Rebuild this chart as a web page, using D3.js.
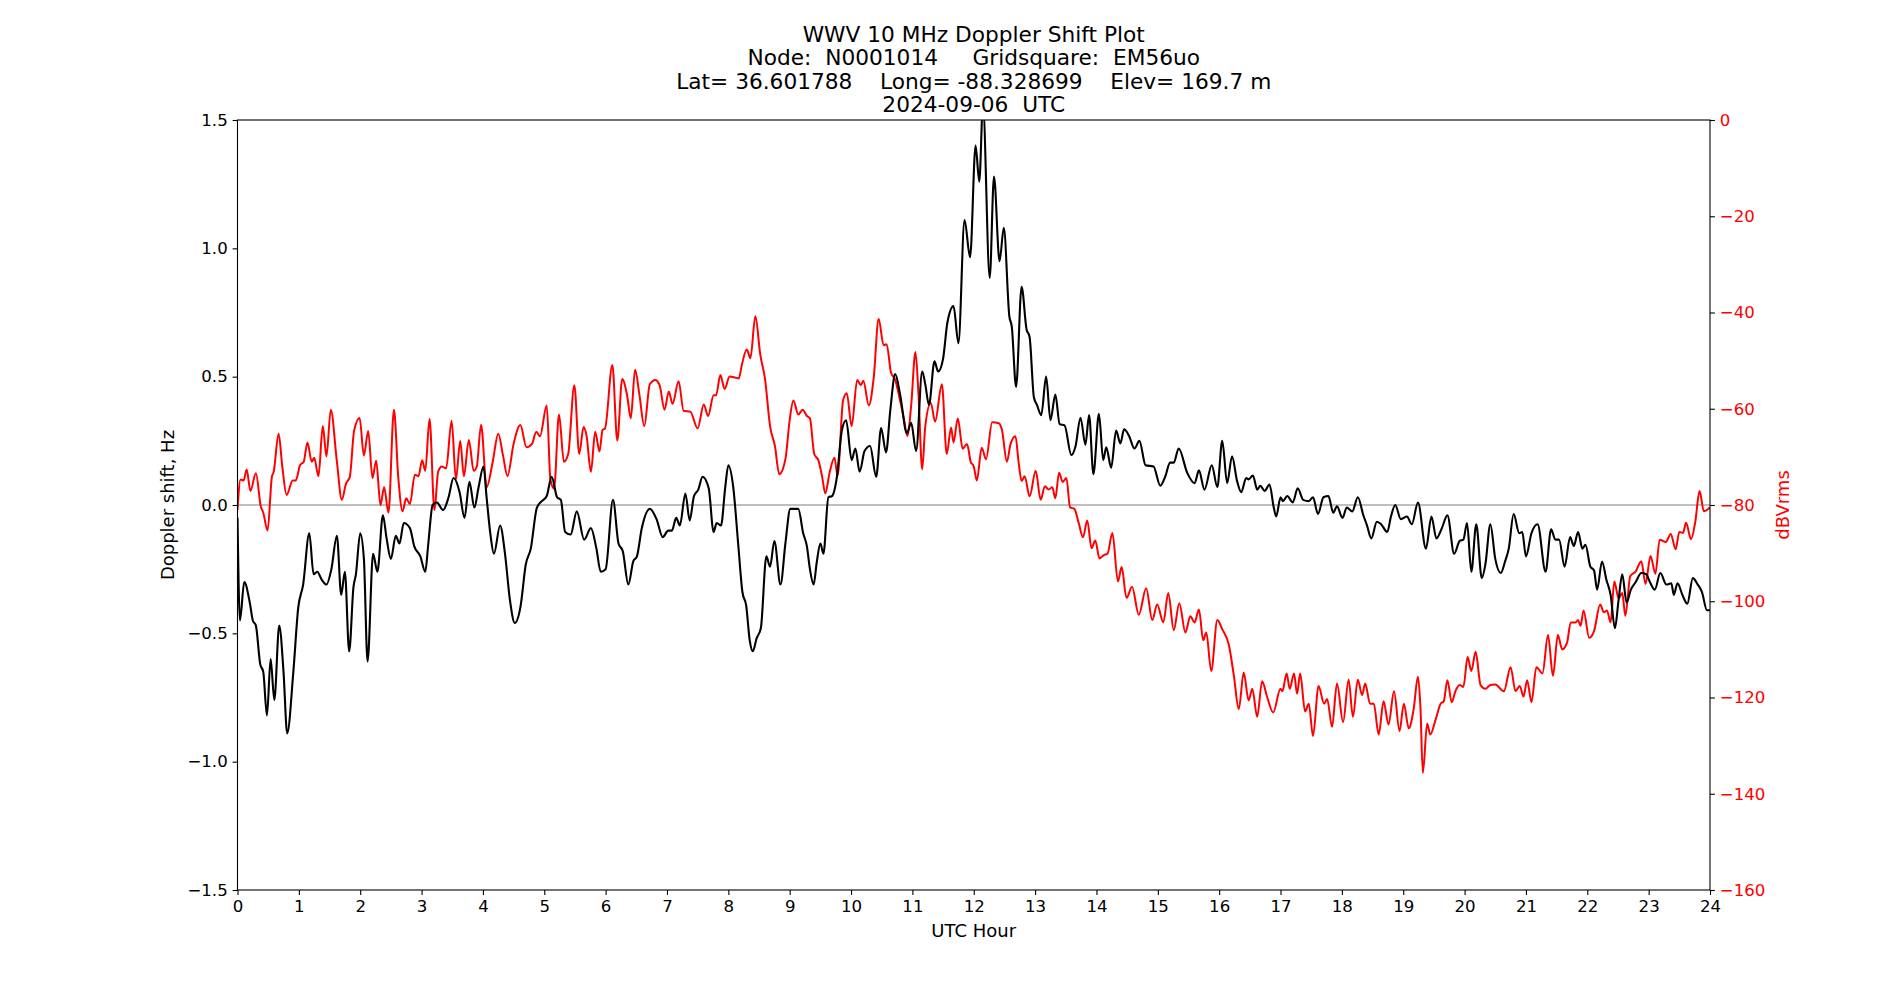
<!DOCTYPE html>
<html>
<head>
<meta charset="utf-8">
<script src="https://cdn.jsdelivr.net/npm/d3@7"></script>
<style>
  body { margin: 0; background: #fff; }
  svg text { font-family: "DejaVu Sans", sans-serif; }
</style>
</head>
<body>
<svg id="chart" width="1900" height="1000"></svg>
<script>
// titles / labels
var titleLines = ['WWV 10 MHz Doppler Shift Plot',
                  'Node:  N0001014     Gridsquare:  EM56uo',
                  'Lat= 36.601788    Long= -88.328699    Elev= 169.7 m',
                  '2024-09-06  UTC'];
var xLabel = 'UTC Hour';
var yLeftLabel = 'Doppler shift, Hz';
var yRightLabel = 'dBVrms';

// tick values
var xTicks = [0,1,2,3,4,5,6,7,8,9,10,11,12,13,14,15,16,17,18,19,20,21,22,23,24];
var leftTicks = [-1.5,-1.0,-0.5,0.0,0.5,1.0,1.5];
var rightTicks = [-160,-140,-120,-100,-80,-60,-40,-20,0];

// doppler shift (black)
var dopHours = [0,0.04,0.11,0.20,0.25,0.30,0.37,0.42,0.48,0.54,0.60,0.68,0.75,0.81,0.91,0.99,1.07,1.17,1.24,1.30,
  1.37,1.45,1.53,1.62,1.69,1.75,1.82,1.89,1.93,2.00,2.06,2.12,2.21,2.28,2.37,2.43,2.50,2.58,2.64,2.71,
  2.81,2.88,2.98,3.06,3.11,3.18,3.25,3.35,3.44,3.52,3.62,3.70,3.78,3.86,3.93,4.01,4.06,4.12,4.18,4.28,
  4.36,4.44,4.52,4.61,4.70,4.78,4.88,4.96,5.04,5.12,5.21,5.27,5.34,5.43,5.53,5.65,5.76,5.85,5.92,6.00,
  6.12,6.21,6.28,6.37,6.45,6.51,6.59,6.72,6.83,6.93,7.02,7.08,7.15,7.21,7.30,7.37,7.44,7.51,7.58,7.68,
  7.76,7.81,7.88,7.95,8.00,8.08,8.16,8.23,8.29,8.35,8.40,8.46,8.53,8.62,8.68,8.75,8.85,8.93,9.01,9.14,
  9.22,9.28,9.33,9.39,9.44,9.50,9.55,9.63,9.69,9.77,9.85,9.92,10.01,10.07,10.14,10.22,10.31,10.41,10.49,10.57,
  10.64,10.72,10.80,10.91,10.98,11.06,11.16,11.21,11.27,11.36,11.42,11.50,11.57,11.67,11.75,11.85,11.94,12.03,12.09,12.15,
  12.26,12.33,12.42,12.49,12.58,12.62,12.69,12.78,12.86,12.91,12.98,13.03,13.10,13.18,13.25,13.33,13.40,13.48,13.59,13.66,
  13.74,13.82,13.88,13.95,14.04,14.11,14.16,14.24,14.32,14.39,14.45,14.53,14.62,14.70,14.80,14.93,15.04,15.12,15.20,15.26,
  15.34,15.48,15.60,15.67,15.76,15.88,15.97,16.05,16.13,16.21,16.29,16.36,16.44,16.48,16.55,16.62,16.67,16.74,16.82,16.89,
  16.93,17.00,17.04,17.11,17.20,17.28,17.37,17.46,17.53,17.61,17.70,17.78,17.86,17.92,18.01,18.08,18.17,18.26,18.35,18.41,
  18.48,18.57,18.64,18.74,18.80,18.87,18.96,19.06,19.14,19.24,19.37,19.46,19.54,19.63,19.72,19.83,19.92,19.98,20.04,20.11,
  20.19,20.28,20.34,20.42,20.50,20.59,20.66,20.72,20.80,20.89,20.94,21.00,21.09,21.19,21.32,21.41,21.48,21.54,21.63,21.72,
  21.78,21.85,21.92,21.97,22.05,22.11,22.16,22.24,22.31,22.38,22.45,22.51,22.57,22.64,22.71,22.79,22.88,22.96,23.02,23.10,
  23.19,23.29,23.37,23.41,23.47,23.55,23.63,23.72,23.80,23.87,23.95,24.00];
var dopValues = [-0.05,-0.45,-0.30,-0.38,-0.45,-0.47,-0.62,-0.65,-0.82,-0.60,-0.76,-0.47,-0.65,-0.89,-0.65,-0.40,-0.31,-0.11,-0.27,-0.26,
  -0.29,-0.31,-0.25,-0.12,-0.35,-0.26,-0.57,-0.32,-0.27,-0.11,-0.21,-0.61,-0.19,-0.26,-0.04,-0.13,-0.21,-0.12,-0.15,-0.07,
  -0.09,-0.16,-0.20,-0.26,-0.15,0.0,0.01,-0.02,0.03,0.105,0.05,-0.05,0.09,-0.01,0.07,0.15,0.03,-0.11,-0.19,-0.08,
  -0.19,-0.37,-0.46,-0.40,-0.23,-0.17,-0.01,0.015,0.035,0.11,0.03,0.02,-0.105,-0.115,-0.025,-0.135,-0.09,-0.17,-0.26,-0.25,
  0.02,-0.15,-0.18,-0.31,-0.22,-0.20,-0.09,-0.015,-0.055,-0.125,-0.10,-0.10,-0.05,-0.08,0.045,-0.06,0.035,0.06,0.11,0.065,
  -0.105,-0.07,-0.08,0.07,0.155,0.07,-0.15,-0.34,-0.39,-0.53,-0.57,-0.52,-0.48,-0.20,-0.24,-0.14,-0.31,-0.15,-0.015,-0.015,
  -0.11,-0.16,-0.25,-0.31,-0.225,-0.15,-0.19,0.03,0.035,0.11,0.29,0.33,0.175,0.22,0.13,0.21,0.23,0.11,0.30,0.205,
  0.37,0.51,0.43,0.28,0.32,0.21,0.52,0.47,0.39,0.56,0.52,0.57,0.71,0.775,0.63,1.11,0.965,1.40,1.26,1.56,
  0.885,1.28,0.95,1.08,0.735,0.695,0.46,0.85,0.685,0.655,0.42,0.39,0.35,0.50,0.33,0.43,0.315,0.31,0.195,0.23,
  0.34,0.235,0.35,0.12,0.355,0.175,0.225,0.145,0.29,0.24,0.295,0.27,0.22,0.25,0.155,0.15,0.075,0.11,0.165,0.165,
  0.22,0.125,0.085,0.135,0.06,0.155,0.07,0.25,0.085,0.19,0.095,0.05,0.105,0.10,0.115,0.06,0.075,0.055,0.08,-0.01,
  -0.045,0.03,0.015,0.035,0.01,0.065,0.02,0.015,0.03,-0.035,0.03,0.035,-0.03,-0.005,-0.05,-0.01,-0.025,0.03,-0.04,-0.08,
  -0.13,-0.065,-0.075,-0.105,-0.045,0.0,-0.055,-0.045,-0.075,0.01,-0.17,-0.045,-0.13,-0.09,-0.04,-0.19,-0.14,-0.135,-0.07,-0.26,
  -0.075,-0.285,-0.23,-0.075,-0.21,-0.265,-0.22,-0.17,-0.035,-0.11,-0.105,-0.20,-0.11,-0.075,-0.26,-0.095,-0.135,-0.135,-0.24,-0.125,
  -0.16,-0.105,-0.17,-0.155,-0.24,-0.255,-0.33,-0.22,-0.29,-0.35,-0.48,-0.37,-0.27,-0.38,-0.33,-0.30,-0.265,-0.27,-0.30,-0.33,
  -0.265,-0.31,-0.305,-0.35,-0.305,-0.35,-0.385,-0.285,-0.31,-0.34,-0.41,-0.41];

// signal level (red)
var dbHours = [0,0.05,0.10,0.15,0.21,0.30,0.38,0.42,0.49,0.56,0.59,0.67,0.73,0.80,0.90,0.95,1.02,1.08,1.14,1.21,
  1.25,1.32,1.39,1.45,1.52,1.62,1.70,1.77,1.83,1.90,1.99,2.06,2.13,2.20,2.26,2.33,2.39,2.46,2.55,2.62,
  2.69,2.75,2.81,2.89,2.95,3.01,3.06,3.13,3.21,3.27,3.33,3.40,3.49,3.56,3.63,3.69,3.77,3.85,3.90,3.97,
  4.06,4.16,4.25,4.33,4.40,4.50,4.61,4.71,4.80,4.87,4.93,5.04,5.10,5.16,5.24,5.32,5.39,5.49,5.57,5.64,
  5.69,5.76,5.83,5.90,5.95,5.99,6.11,6.19,6.27,6.35,6.41,6.48,6.55,6.63,6.72,6.81,6.88,6.96,7.03,7.09,
  7.19,7.27,7.38,7.50,7.60,7.67,7.76,7.80,7.87,7.94,8.02,8.11,8.17,8.22,8.30,8.36,8.44,8.52,8.60,8.68,
  8.76,8.83,8.93,9.00,9.06,9.14,9.21,9.28,9.33,9.40,9.47,9.53,9.58,9.65,9.73,9.78,9.87,9.93,10.01,10.10,
  10.16,10.20,10.29,10.37,10.45,10.53,10.58,10.65,10.72,10.79,10.86,10.92,10.98,11.05,11.10,11.16,11.21,11.30,11.37,11.48,
  11.56,11.63,11.67,11.74,11.82,11.89,11.95,12.00,12.05,12.13,12.20,12.30,12.41,12.46,12.54,12.60,12.68,12.73,12.78,12.83,
  12.91,13.01,13.09,13.16,13.22,13.28,13.33,13.39,13.45,13.51,13.57,13.64,13.71,13.78,13.85,13.92,13.98,14.05,14.12,14.18,
  14.26,14.35,14.41,14.49,14.58,14.69,14.81,14.91,14.99,15.09,15.17,15.26,15.35,15.45,15.53,15.60,15.67,15.74,15.79,15.87,
  15.97,16.05,16.16,16.24,16.32,16.40,16.48,16.54,16.62,16.70,16.78,16.88,17.00,17.03,17.10,17.15,17.22,17.27,17.32,17.40,
  17.46,17.53,17.62,17.71,17.76,17.84,17.92,18.02,18.11,18.18,18.26,18.33,18.38,18.46,18.52,18.60,18.68,18.76,18.85,18.94,
  19.01,19.09,19.17,19.24,19.28,19.32,19.39,19.44,19.53,19.61,19.66,19.72,19.79,19.85,19.92,19.98,20.05,20.11,20.18,20.26,
  20.34,20.42,20.50,20.64,20.75,20.83,20.90,20.96,21.02,21.09,21.17,21.27,21.36,21.44,21.52,21.59,21.67,21.73,21.81,21.85,
  21.89,21.94,22.03,22.11,22.21,22.27,22.32,22.38,22.44,22.51,22.57,22.62,22.70,22.79,22.88,22.95,23.03,23.11,23.18,23.28,
  23.36,23.44,23.50,23.56,23.61,23.69,23.76,23.83,23.90,24.00];
var dbValues = [-81,-74.7,-74.9,-72.6,-77.1,-73.4,-80.3,-81.6,-85.3,-74.2,-73.1,-65.2,-72.0,-77.9,-74.9,-74.9,-71.7,-71.0,-67.0,-71.0,
  -70.2,-74.0,-63.6,-69.9,-60.2,-71.0,-78.9,-75.5,-74.2,-64.6,-61.9,-69.7,-64.6,-74.4,-70.8,-80.0,-76.3,-81.6,-60.2,-74.2,
  -81.3,-78.6,-79.8,-73.7,-74.0,-70.7,-72.9,-62.1,-81.1,-73.1,-72.0,-72.4,-62.5,-74.7,-66.7,-74.0,-66.5,-72.9,-72.0,-63.3,
  -76.3,-71.0,-65.2,-69.9,-74.0,-67.3,-63.4,-68.0,-67.3,-64.8,-65.7,-59.3,-74.7,-76.6,-61.2,-71.0,-69.4,-55.1,-69.4,-63.8,
  -65.7,-73.1,-64.8,-68.9,-64.4,-64.1,-50.9,-66.6,-53.8,-57.2,-62.0,-51.9,-57.0,-63.6,-54.9,-54.0,-55.1,-60.2,-56.4,-59.0,
  -54.3,-60.4,-60.6,-64.1,-59.1,-61.5,-57.2,-57.2,-53.0,-55.9,-53.3,-53.5,-53.7,-50.9,-47.7,-49.5,-40.8,-48.7,-54.0,-63.6,
  -67.8,-73.6,-70.5,-62.3,-58.3,-61.2,-60.2,-61.5,-62.0,-69.4,-70.8,-74.2,-77.6,-73.3,-70.2,-73.9,-58.3,-56.8,-63.6,-54.0,
  -55.1,-54.2,-59.3,-53.5,-41.3,-46.8,-46.6,-52.4,-54.0,-57.7,-62.0,-65.7,-59.3,-48.2,-57.2,-72.6,-63.6,-58.8,-62.7,-54.9,
  -69.4,-63.9,-67.0,-62.0,-68.3,-67.3,-71.0,-72.0,-74.9,-68.1,-70.5,-62.8,-63.0,-64.4,-71.0,-67.3,-65.7,-71.0,-75.0,-74.0,
  -78.2,-72.9,-78.9,-76.1,-76.8,-76.3,-78.6,-73.3,-75.2,-74.4,-80.5,-80.8,-83.7,-86.7,-83.2,-89.0,-87.4,-91.1,-90.4,-90.1,
  -85.8,-95.9,-92.9,-99.3,-97.0,-102.8,-97.3,-103.9,-100.7,-104.4,-98.3,-106.0,-100.4,-106.5,-103.1,-104.4,-101.7,-108.1,-106.5,-114.5,
  -103.9,-105.8,-109.2,-115.5,-122.4,-114.8,-120.6,-118.2,-124.0,-116.6,-119.8,-123.1,-118.2,-118.7,-115.0,-118.2,-115.0,-119.2,-115.0,-122.9,
  -121.3,-128.0,-117.6,-121.3,-120.3,-126.1,-117.1,-125.1,-116.3,-124.0,-116.3,-119.5,-117.1,-121.3,-121.3,-127.7,-120.8,-125.6,-118.7,-127.0,
  -121.3,-126.4,-122.4,-115.7,-121.9,-135.7,-125.4,-127.7,-124.5,-121.3,-120.8,-116.4,-121.0,-118.7,-117.4,-117.8,-111.6,-114.5,-110.5,-117.4,
  -118.2,-117.4,-117.3,-118.7,-113.7,-118.7,-117.6,-119.8,-116.4,-121.0,-113.7,-115.0,-107.0,-115.5,-107.0,-110.0,-108.6,-104.4,-104.4,-103.9,
  -105.1,-101.9,-107.6,-106.2,-100.7,-102.3,-101.9,-104.4,-95.9,-99.4,-98.3,-103.0,-94.8,-93.8,-91.7,-96.4,-90.6,-94.3,-87.2,-87.7,
  -86.0,-89.2,-85.6,-85.8,-83.7,-87.1,-83.5,-77.1,-81.3,-80.5];

// layout (matplotlib-like figure 19x10 @100dpi)
var plotLeft = 237.5, plotRight = 1710, plotTop = 120, plotBottom = 890;
var svg = d3.select('#chart');

var x = d3.scaleLinear().domain([0, 24]).range([plotLeft, plotRight]);
var yL = d3.scaleLinear().domain([-1.5, 1.5]).range([plotBottom, plotTop]);
var yR = d3.scaleLinear().domain([-160, 0]).range([plotBottom, plotTop]);

svg.append('defs').append('clipPath').attr('id', 'plotclip')
   .append('rect').attr('x', plotLeft).attr('y', plotTop)
   .attr('width', plotRight - plotLeft).attr('height', plotBottom - plotTop);

var plotG = svg.append('g').attr('clip-path', 'url(#plotclip)');

// zero reference line
plotG.append('line')
     .attr('x1', plotLeft).attr('x2', plotRight)
     .attr('y1', yL(0)).attr('y2', yL(0))
     .attr('stroke', '#808080').attr('stroke-width', 1.2);

var dbData = dbHours.map(function (h, i) { return [h, dbValues[i]]; });
var dopData = dopHours.map(function (h, i) { return [h, dopValues[i]]; });

var redLine = d3.line().x(function (d) { return x(d[0]); })
                       .y(function (d) { return yR(d[1]); })
                       .curve(d3.curveMonotoneX);
var blackLine = d3.line().x(function (d) { return x(d[0]); })
                         .y(function (d) { return yL(d[1]); })
                         .curve(d3.curveMonotoneX);

plotG.append('path').datum(dbData).attr('d', redLine)
     .attr('fill', 'none').attr('stroke', '#ff0000').attr('stroke-width', 2)
     .attr('stroke-linejoin', 'round');
plotG.append('path').datum(dopData).attr('d', blackLine)
     .attr('fill', 'none').attr('stroke', '#000000').attr('stroke-width', 2.1)
     .attr('stroke-linejoin', 'round');

// axes
var tickFont = 16.6;
var labelFont = 18;
var xAxis = d3.axisBottom(x).tickValues(xTicks).tickFormat(d3.format('d'))
              .tickSize(4.9).tickPadding(4.9);
var yAxisL = d3.axisLeft(yL).tickValues(leftTicks).tickFormat(d3.format('.1f'))
               .tickSize(4.9).tickPadding(4.9);
var yAxisR = d3.axisRight(yR).tickValues(rightTicks).tickFormat(d3.format('d'))
               .tickSize(4.9).tickPadding(4.9);

var gx = svg.append('g').attr('transform', 'translate(0,' + plotBottom + ')').call(xAxis);
var gl = svg.append('g').attr('transform', 'translate(' + plotLeft + ',0)').call(yAxisL);
var gr = svg.append('g').attr('transform', 'translate(' + plotRight + ',0)').call(yAxisR);

[gx, gl, gr].forEach(function (g) {
    g.selectAll('.domain').remove();
    g.selectAll('.tick line').attr('stroke', '#000').attr('stroke-width', 1.1);
    g.selectAll('.tick text').attr('font-size', tickFont).attr('fill', '#000')
     .style('font-family', '"DejaVu Sans", sans-serif');
});
gr.selectAll('.tick text').attr('fill', '#ff0000');

// frame
svg.append('rect').attr('x', plotLeft).attr('y', plotTop)
   .attr('width', plotRight - plotLeft).attr('height', plotBottom - plotTop)
   .attr('fill', 'none').attr('stroke', '#000').attr('stroke-width', 1.1);

// labels
svg.append('text').attr('x', (plotLeft + plotRight) / 2).attr('y', 937)
   .attr('text-anchor', 'middle').attr('font-size', labelFont).text(xLabel);
svg.append('text').attr('transform', 'translate(174,' + (plotTop + plotBottom) / 2 + ') rotate(-90)')
   .attr('text-anchor', 'middle').attr('font-size', labelFont).text(yLeftLabel);
svg.append('text').attr('transform', 'translate(1789,' + (plotTop + plotBottom) / 2 + ') rotate(-90)')
   .attr('text-anchor', 'middle').attr('font-size', labelFont).attr('fill', '#ff0000').text(yRightLabel);

// title
var titleSize = 21.7;
titleLines.forEach(function (line, i) {
    svg.append('text').attr('x', (plotLeft + plotRight) / 2)
       .attr('y', 42 + i * 23.3)
       .attr('text-anchor', 'middle').attr('font-size', titleSize)
       .style('white-space', 'pre').attr('xml:space', 'preserve')
       .text(line);
});
</script>
</body>
</html>
